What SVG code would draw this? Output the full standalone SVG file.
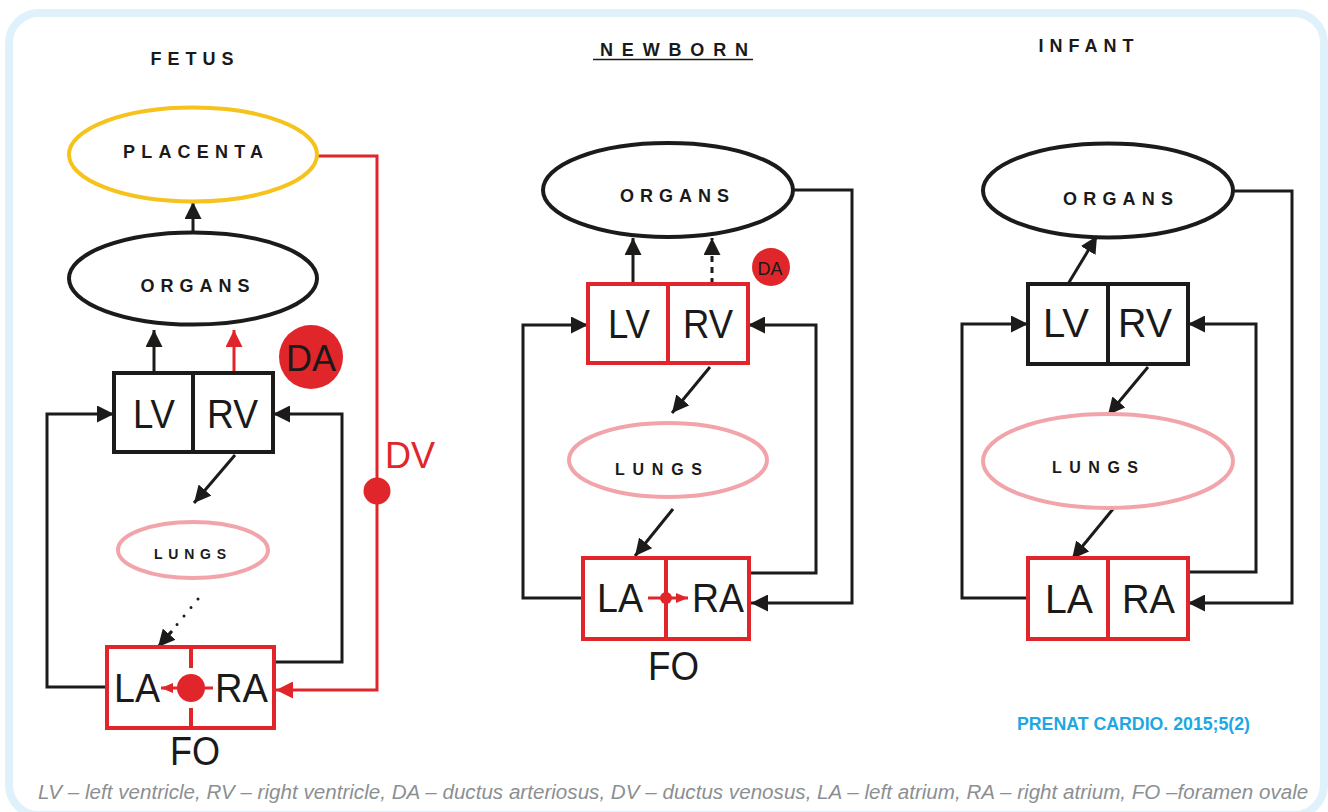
<svg xmlns="http://www.w3.org/2000/svg" width="1328" height="812" viewBox="0 0 1328 812">
<style>
.lbl{font-family:"Liberation Sans",Arial,sans-serif;font-weight:bold;fill:#1a1a1a;text-anchor:middle}
.big{font-family:"Liberation Sans",Arial,sans-serif;font-size:40px;fill:#1a1a1a;text-anchor:middle}
.box{fill:none;stroke-width:4}
.blk{stroke:#1d1a1a}
.red{stroke:#e0262b}
.con{fill:none;stroke:#1d1a1a;stroke-width:3}
.conr{fill:none;stroke:#e0262b;stroke-width:3}
</style>
<defs>
<marker id="ab" viewBox="0 0 17 17" refX="17" refY="8.5" markerWidth="17" markerHeight="17" markerUnits="userSpaceOnUse" orient="auto"><path d="M0,0 L17,8.5 L0,17 z" fill="#1d1a1a"/></marker>
<marker id="ar" viewBox="0 0 17 17" refX="17" refY="8.5" markerWidth="17" markerHeight="17" markerUnits="userSpaceOnUse" orient="auto"><path d="M0,0 L17,8.5 L0,17 z" fill="#e0262b"/></marker>
<marker id="ars" viewBox="0 0 12 10" refX="12" refY="5" markerWidth="12" markerHeight="10" markerUnits="userSpaceOnUse" orient="auto"><path d="M0,0 L12,5 L0,10 z" fill="#e0262b"/></marker>
</defs>
<rect x="0" y="0" width="1328" height="812" fill="#ffffff"/>
<rect x="9" y="13" width="1315" height="802" rx="30" fill="#ffffff" stroke="#dff1fa" stroke-width="8"/>

<!-- titles -->
<text class="lbl" x="192" y="65" font-size="18" textLength="83" lengthAdjust="spacing">FETUS</text>
<text class="lbl" x="674" y="56" font-size="18" textLength="148" lengthAdjust="spacing">NEWBORN</text>
<line x1="593" y1="59.5" x2="753" y2="59.5" stroke="#1d1a1a" stroke-width="1.5"/>
<text class="lbl" x="1086" y="52" font-size="18" textLength="95" lengthAdjust="spacing">INFANT</text>

<!-- connectors -->
<g id="connectors">
<path class="con" d="M193,233 L193,202" marker-end="url(#ab)"/>
<path class="con" d="M154,373 L154,330" marker-end="url(#ab)"/>
<path class="conr" stroke-width="2.5" d="M234,373 L234,330" marker-end="url(#ar)"/>
<path class="con" d="M107,687 L47,687 L47,414 L114,414" marker-end="url(#ab)"/>
<path class="con" d="M274,662 L342,662 L342,414 L273,414" marker-end="url(#ab)"/>
<path class="con" d="M235,455 L194,503" marker-end="url(#ab)"/>
<path class="con" stroke-width="5" stroke-linecap="round" stroke-dasharray="0 11" d="M198,599 L170,633"/>
<path class="con" d="M172,631 L158,647" marker-end="url(#ab)" stroke-width="1"/>
<path class="conr" d="M317,156 L377,156 L377,690 L276,690" marker-end="url(#ar)"/>
<circle cx="377" cy="491" r="13.5" fill="#e0262b"/>
<path class="conr" stroke-width="2" d="M213,688 L161,688" marker-end="url(#ars)"/>

<path class="con" d="M793,190 L852,190 L852,603 L751,603" marker-end="url(#ab)"/>
<path class="con" d="M633,284 L633,238" marker-end="url(#ab)"/>
<path class="con" stroke-dasharray="6 5" d="M712,284 L712,238" marker-end="url(#ab)"/>
<path class="con" d="M583,598 L523,598 L523,325 L588,325" marker-end="url(#ab)"/>
<path class="con" d="M749,573 L816,573 L816,325 L748,325" marker-end="url(#ab)"/>
<path class="con" stroke-width="3.5" d="M710,367 L672,413" marker-end="url(#ab)"/>
<path class="con" stroke-width="4" d="M673,509 L635,556" marker-end="url(#ab)"/>
<path class="conr" stroke-width="2" d="M648,598 L688,598" marker-end="url(#ars)"/>

<path class="con" d="M1233,191 L1292,191 L1292,603 L1188,603" marker-end="url(#ab)"/>
<path class="con" d="M1068,284 L1097,236" marker-end="url(#ab)"/>
<path class="con" d="M1028,598 L962,598 L962,324 L1028,324" marker-end="url(#ab)"/>
<path class="con" d="M1188,572 L1256,572 L1256,324 L1188,324" marker-end="url(#ab)"/>
<path class="con" d="M1148,367 L1108,415" marker-end="url(#ab)"/>
<path class="con" d="M1113,509 L1072,559" marker-end="url(#ab)"/>
</g>

<!-- FETUS nodes -->
<g id="fetus-placenta">
<ellipse cx="193" cy="154.5" rx="124" ry="47" fill="none" stroke="#f6c21c" stroke-width="4"/>
<text class="lbl" x="193" y="158" font-size="18" textLength="140" lengthAdjust="spacing">PLACENTA</text>
</g>
<g id="fetus-organs">
<ellipse cx="193" cy="278.5" rx="124" ry="46" fill="none" stroke="#1d1a1a" stroke-width="4"/>
<text class="lbl" x="195" y="292" font-size="18" textLength="109" lengthAdjust="spacing">ORGANS</text>
</g>
<g id="fetus-da">
<circle cx="311" cy="357" r="32" fill="#e0262b"/>
<text x="311" y="371" font-family="Liberation Sans, Arial, sans-serif" font-size="36" fill="#1a1a1a" text-anchor="middle">DA</text>
</g>
<g id="fetus-ventricles">
<rect class="box blk" x="114" y="373" width="159" height="79"/>
<line class="blk" x1="193" y1="373" x2="193" y2="452" stroke-width="4"/>
<text class="big" x="154" y="428" textLength="42" lengthAdjust="spacingAndGlyphs">LV</text>
<text class="big" x="232.5" y="428" textLength="51" lengthAdjust="spacingAndGlyphs">RV</text>
</g>
<g id="fetus-lungs">
<ellipse cx="193" cy="550" rx="75" ry="28" fill="none" stroke="#f2a4ab" stroke-width="4"/>
<text class="lbl" x="190" y="559" font-size="14" textLength="72" lengthAdjust="spacing">LUNGS</text>
</g>
<g id="fetus-dv">
<text x="385" y="468" font-family="Liberation Sans, Arial, sans-serif" font-size="36" fill="#e0262b">DV</text>
</g>
<g id="fetus-atria">
<rect class="box red" x="107" y="647" width="167" height="81"/>
<line class="red" x1="191" y1="647" x2="191" y2="668" stroke-width="4"/>
<line class="red" x1="191" y1="708" x2="191" y2="728" stroke-width="4"/>
<circle cx="191" cy="688" r="14" fill="#e0262b"/>
<text class="big" x="137" y="702" textLength="46" lengthAdjust="spacingAndGlyphs">LA</text>
<text class="big" x="241.5" y="702" textLength="53" lengthAdjust="spacingAndGlyphs">RA</text>
<text class="big" x="195" y="765" textLength="50" lengthAdjust="spacingAndGlyphs">FO</text>
</g>

<!-- NEWBORN nodes -->
<g id="newborn-organs">
<ellipse cx="668" cy="190" rx="125" ry="47" fill="none" stroke="#1d1a1a" stroke-width="4"/>
<text class="lbl" x="674.5" y="202" font-size="18" textLength="109" lengthAdjust="spacing">ORGANS</text>
</g>
<g id="newborn-da">
<circle cx="771" cy="267" r="19" fill="#e0262b"/>
<text x="770" y="275" font-family="Liberation Sans, Arial, sans-serif" font-size="18" fill="#1a1a1a" text-anchor="middle">DA</text>
</g>
<g id="newborn-ventricles">
<rect class="box red" x="588" y="284" width="160" height="79"/>
<line class="red" x1="668" y1="284" x2="668" y2="363" stroke-width="4"/>
<text class="big" x="629" y="338" textLength="42" lengthAdjust="spacingAndGlyphs">LV</text>
<text class="big" x="708" y="338" textLength="50" lengthAdjust="spacingAndGlyphs">RV</text>
</g>
<g id="newborn-lungs">
<ellipse cx="668" cy="460" rx="99" ry="37" fill="none" stroke="#f2a4ab" stroke-width="4"/>
<text class="lbl" x="658.5" y="475" font-size="16" textLength="87" lengthAdjust="spacing">LUNGS</text>
</g>
<g id="newborn-atria">
<rect class="box red" x="583" y="558" width="166" height="81"/>
<line class="red" x1="666" y1="558" x2="666" y2="639" stroke-width="4"/>
<circle cx="666" cy="598" r="6" fill="#e0262b"/>
<text class="big" x="620" y="612" textLength="46" lengthAdjust="spacingAndGlyphs">LA</text>
<text class="big" x="718" y="612" textLength="52" lengthAdjust="spacingAndGlyphs">RA</text>
<text class="big" x="673.5" y="680" textLength="51" lengthAdjust="spacingAndGlyphs">FO</text>
</g>

<!-- INFANT nodes -->
<g id="infant-organs">
<ellipse cx="1108" cy="190.5" rx="125" ry="47" fill="none" stroke="#1d1a1a" stroke-width="4"/>
<text class="lbl" x="1118" y="205" font-size="18" textLength="110" lengthAdjust="spacing">ORGANS</text>
</g>
<g id="infant-ventricles">
<rect class="box blk" x="1028" y="284" width="160" height="80"/>
<line class="blk" x1="1108" y1="284" x2="1108" y2="364" stroke-width="4"/>
<text class="big" x="1066" y="337" textLength="46" lengthAdjust="spacingAndGlyphs">LV</text>
<text class="big" x="1145" y="337" textLength="54" lengthAdjust="spacingAndGlyphs">RV</text>
</g>
<g id="infant-lungs">
<ellipse cx="1108" cy="461" rx="125" ry="47" fill="none" stroke="#f2a4ab" stroke-width="4"/>
<text class="lbl" x="1095" y="473" font-size="16" textLength="86" lengthAdjust="spacing">LUNGS</text>
</g>
<g id="infant-atria">
<rect class="box red" x="1028" y="558" width="160" height="81"/>
<line class="red" x1="1108" y1="558" x2="1108" y2="639" stroke-width="4"/>
<text class="big" x="1069" y="613" textLength="48" lengthAdjust="spacingAndGlyphs">LA</text>
<text class="big" x="1148.5" y="613" textLength="53" lengthAdjust="spacingAndGlyphs">RA</text>
</g>

<text x="1017" y="730" font-family="Liberation Sans, Arial, sans-serif" font-weight="bold" font-size="17.5" fill="#1ba8e3" textLength="233" lengthAdjust="spacingAndGlyphs">PRENAT CARDIO. 2015;5(2)</text>
<text transform="translate(38,799) scale(0.86,1)" x="0" y="0" font-family="Liberation Sans, Arial, sans-serif" font-style="italic" font-size="21" fill="#8c8f92" textLength="1477" lengthAdjust="spacingAndGlyphs">LV – left ventricle, RV – right ventricle, DA – ductus arteriosus, DV – ductus venosus, LA – left atrium, RA – right atrium, FO –foramen ovale</text>
</svg>
